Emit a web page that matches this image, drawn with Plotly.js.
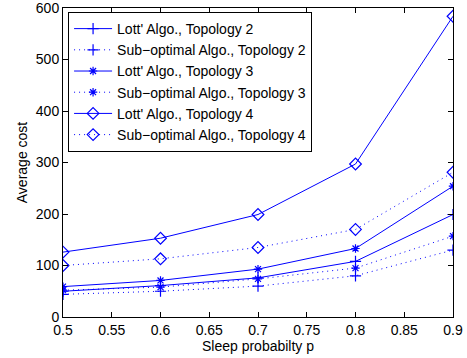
<!DOCTYPE html>
<html>
<head>
<script src="https://cdn.plot.ly/plotly-3.0.1.min.js"></script>
<style>html,body{margin:0;padding:0;background:#fff;}#chart{width:467px;height:358px;}</style>
</head>
<body>
<div id="chart"></div>
<script>
var sleepProb = [0.5, 0.6, 0.7, 0.8, 0.9];
var lottT2 = [50, 61, 76, 108, 199];
var subT2 = [44, 50, 60, 80, 130];
var lottT3 = [59, 71, 93, 133, 254];
var subT3 = [52, 58, 74, 95, 157];
var lottT4 = [126, 153, 199, 297, 584];
var subT4 = [100, 113, 135, 170, 281];
var seriesNames = ["Lott' Algo., Topology 2", "Sub\u2212optimal Algo., Topology 2",
  "Lott' Algo., Topology 3", "Sub\u2212optimal Algo., Topology 3",
  "Lott' Algo., Topology 4", "Sub\u2212optimal Algo., Topology 4"];
var xTicks = [0.5, 0.55, 0.6, 0.65, 0.7, 0.75, 0.8, 0.85, 0.9];
var xTickText = ["0.5", "0.55", "0.6", "0.65", "0.7", "0.75", "0.8", "0.85", "0.9"];
var yTicks = [0, 100, 200, 300, 400, 500, 600];

var blue = 'rgb(0,0,255)';
var vals = [lottT2, subT2, lottT3, subT3, lottT4, subT4];
var symbols = ['cross-thin-open', 'cross-thin-open', 'asterisk-open', 'asterisk-open', 'diamond-open', 'diamond-open'];
var sizes = [8, 8, 7, 7, 9, 9];
var traces = vals.map(function (v, i) {
  return {
    x: sleepProb, y: v, name: seriesNames[i], type: 'scatter', mode: 'lines+markers',
    line: {color: blue, width: 1, dash: (i % 2 === 0) ? 'solid' : '1px,4px'},
    marker: {symbol: symbols[i], size: sizes[i], color: blue, line: {color: blue, width: 1.2}}
  };
});

var fam = 'Liberation Sans, Arial, sans-serif';
var axisCommon = {
  showline: true, linecolor: 'black', linewidth: 1, mirror: 'ticks',
  ticks: 'inside', ticklen: 5, tickcolor: 'black', showgrid: false, zeroline: false,
  ticklabeloverflow: 'allow',
  tickfont: {family: fam, size: 14, color: 'black'}
};
var layout = {
  width: 467, height: 358,
  margin: {l: 63, r: 14, t: 8, b: 41},
  paper_bgcolor: 'white', plot_bgcolor: 'white',
  font: {family: fam, size: 14, color: 'black'},
  xaxis: Object.assign({}, axisCommon, {
    range: [0.5, 0.9], tickvals: xTicks, ticktext: xTickText,
    title: {text: 'Sleep probabilty p', font: {size: 14}, standoff: 0}
  }),
  yaxis: Object.assign({}, axisCommon, {
    range: [0, 600], tickvals: yTicks,
    title: {text: 'Average cost', font: {size: 14}, standoff: 4}
  }),
  showlegend: true,
  legend: {
    x: 0.013, y: 0.987, xanchor: 'left', yanchor: 'top',
    bgcolor: 'white', bordercolor: 'black', borderwidth: 1,
    font: {family: fam, size: 14, color: 'black'},
    tracegroupgap: 0, itemwidth: 38
  }
};
Plotly.newPlot('chart', traces, layout, {displayModeBar: false, staticPlot: true});
</script>
</body>
</html>
